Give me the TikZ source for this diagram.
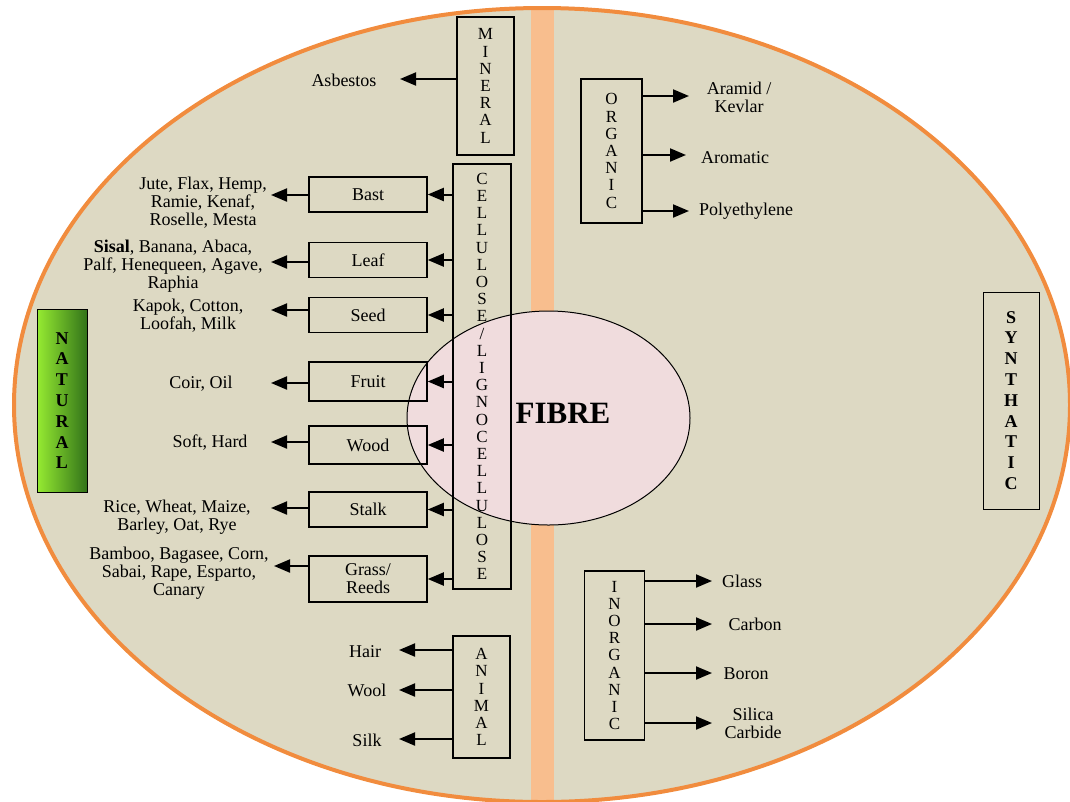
\documentclass[tikz,border=0pt]{standalone}
\usepackage{fontspec}
\setmainfont{Liberation Serif}
\usepackage{tikz}
\usetikzlibrary{arrows.meta, positioning}
\definecolor{tanFill}{RGB}{221,217,195}
\definecolor{rimOrange}{RGB}{241,140,62}
\definecolor{barOrange}{RGB}{248,190,142}
\definecolor{fibrePink}{RGB}{240,220,221}
\definecolor{natLight}{RGB}{150,235,50}
\definecolor{natDark}{RGB}{50,115,25}

\begin{document}
\begin{tikzpicture}[x=1pt, y=-1pt,
    every node/.style={font=\fontsize{18}{18}\selectfont, inner sep=0pt},
    subbox/.style={draw, line width=1.5pt, minimum width=118pt, minimum height=35pt, align=center},
    letterbox/.style={draw, line width=1.5pt, align=center, font=\fontsize{17}{17.2}\selectfont},
    classbox/.style={draw, line width=1pt, align=center, font=\bfseries\fontsize{18}{20.8}\selectfont},
    lbl/.style={align=center},
    arr/.style={line width=2pt, -{Triangle[length=16pt, width=13pt]}}]
    \useasboundingbox (0,0) rectangle (1070,801);

    % background
    \fill[tanFill] (542,405) ellipse [x radius=528pt, y radius=397pt];
    \begin{scope}
        \clip (542,405) ellipse [x radius=528pt, y radius=397pt];
        \fill[barOrange] (531,0) rectangle (554,801);
    \end{scope}
    \draw[rimOrange, line width=4pt] (542,405) ellipse [x radius=528pt, y radius=397pt];
    \draw[fill=fibrePink, line width=1pt] (548.5,418) ellipse [x radius=141.5pt, y radius=107pt];
    \node[font=\bfseries\fontsize{31}{31}\selectfont] (fibre) at (563,413) {FIBRE};

    % main classes
    \node[classbox, minimum width=50pt, minimum height=183pt, left color=natLight, right color=natDark] (natural) at (62,400.5) {N\\A\\T\\U\\R\\A\\L};
    \node[classbox, minimum width=56pt, minimum height=217pt] (synthatic) at (1011,400.5) {S\\Y\\N\\T\\H\\A\\T\\I\\C};

    \node[letterbox, minimum width=57pt, minimum height=138pt] (mineral) at (485.5,86) {M\\I\\N\\E\\R\\A\\L};
    \node[letterbox, minimum width=58pt, minimum height=425pt] (cell) at (482,376.5) {C\\E\\L\\L\\U\\L\\O\\S\\E\\/\\L\\I\\G\\N\\O\\C\\E\\L\\L\\U\\L\\O\\S\\E};
    \node[letterbox, minimum width=57pt, minimum height=122pt] (animal) at (481.5,697) {A\\N\\I\\M\\A\\L};
    \node[letterbox, minimum width=61pt, minimum height=144pt] (organic) at (611.5,151) {O\\R\\G\\A\\N\\I\\C};
    \node[letterbox, minimum width=60pt, minimum height=169pt] (inorganic) at (614.5,655.5) {I\\N\\O\\R\\G\\A\\N\\I\\C};

    % cellulose groups
    \node[subbox] (bast) at (368,194.5) {Bast};
    \node[subbox] (leaf) at (368,260) {Leaf};
    \node[subbox] (seed) at (368,315) {Seed};
    \node[subbox, minimum height=39pt] (fruit) at (368,381.5) {Fruit};
    \node[subbox, minimum height=38pt] (wood) at (368,445) {Wood};
    \node[subbox] (stalk) at (368,509.5) {Stalk};
    \node[subbox, minimum height=46pt] (grass) at (368,579) {Grass/\\Reeds};

    % examples
    \node[lbl] (asbTxt) at (344,80) {Asbestos};
    \node[lbl] (bastTxt) at (203,203) {Jute, Flax, Hemp,\\Ramie, Kenaf,\\Roselle, Mesta};
    \node[lbl] (leafTxt) at (173,266) {\textbf{Sisal}, Banana, Abaca,\\Palf, Henequeen, Agave,\\Raphia};
    \node[lbl] (seedTxt) at (188,316) {Kapok, Cotton,\\Loofah, Milk};
    \node[lbl] (fruitTxt) at (201,384) {Coir, Oil};
    \node[lbl] (woodTxt) at (210,443) {Soft, Hard};
    \node[lbl] (stalkTxt) at (177,517) {Rice, Wheat, Maize,\\Barley, Oat, Rye};
    \node[lbl] (grassTxt) at (179,573) {Bamboo, Bagasee, Corn,\\Sabai, Rape, Esparto,\\Canary};
    \node[lbl] (hairTxt) at (365,652) {Hair};
    \node[lbl] (woolTxt) at (367,690) {Wool};
    \node[lbl] (silkTxt) at (367,740) {Silk};
    \node[lbl] (aramidTxt) at (739,97) {Aramid /\\Kevlar};
    \node[lbl] (aromTxt) at (735,158) {Aromatic};
    \node[lbl] (polyTxt) at (746,211) {Polyethylene};
    \node[lbl] (glassTxt) at (742,581) {Glass};
    \node[lbl] (carbonTxt) at (755,624) {Carbon};
    \node[lbl] (boronTxt) at (746,674) {Boron};
    \node[lbl] (sicTxt) at (753,723) {Silica\\Carbide};

    % arrow tips
    \coordinate (asbTip) at (400,79);
    \coordinate (bastTip) at (271,195);
    \coordinate (leafTip) at (271,262);
    \coordinate (seedTip) at (271,310);
    \coordinate (fruitTip) at (271,383);
    \coordinate (woodTip) at (271,442);
    \coordinate (stalkTip) at (271,508);
    \coordinate (grassTip) at (274,566);
    \coordinate (hairTip) at (399,650);
    \coordinate (woolTip) at (399,690);
    \coordinate (silkTip) at (399,739);
    \coordinate (aramidTip) at (689,96);
    \coordinate (aromTip) at (686,155);
    \coordinate (polyTip) at (689,211);
    \coordinate (glassTip) at (712,581);
    \coordinate (carbonTip) at (712,624);
    \coordinate (boronTip) at (712,673);
    \coordinate (sicTip) at (712,723);

    \draw[arr] (mineral.west |- asbTip) -- (asbTip);

    \draw[arr] (cell.west |- bast) -- (bast.east);
    \draw[arr] (cell.west |- leaf) -- (leaf.east);
    \draw[arr] (cell.west |- seed) -- (seed.east);
    \draw[arr] (cell.west |- fruit) -- (fruit.east);
    \draw[arr] (cell.west |- wood) -- (wood.east);
    \draw[arr] (cell.west |- stalk) -- (stalk.east);
    \draw[arr] (cell.west |- grass) -- (grass.east);

    \draw[arr] (bast.west |- bastTip) -- (bastTip);
    \draw[arr] (leaf.west |- leafTip) -- (leafTip);
    \draw[arr] (seed.west |- seedTip) -- (seedTip);
    \draw[arr] (fruit.west |- fruitTip) -- (fruitTip);
    \draw[arr] (wood.west |- woodTip) -- (woodTip);
    \draw[arr] (stalk.west |- stalkTip) -- (stalkTip);
    \draw[arr] (grass.west |- grassTip) -- (grassTip);

    \draw[arr] (animal.west |- hairTip) -- (hairTip);
    \draw[arr] (animal.west |- woolTip) -- (woolTip);
    \draw[arr] (animal.west |- silkTip) -- (silkTip);

    \draw[arr] (organic.east |- aramidTip) -- (aramidTip);
    \draw[arr] (organic.east |- aromTip) -- (aromTip);
    \draw[arr] (organic.east |- polyTip) -- (polyTip);

    \draw[arr] (inorganic.east |- glassTip) -- (glassTip);
    \draw[arr] (inorganic.east |- carbonTip) -- (carbonTip);
    \draw[arr] (inorganic.east |- boronTip) -- (boronTip);
    \draw[arr] (inorganic.east |- sicTip) -- (sicTip);
\end{tikzpicture}
\end{document}
